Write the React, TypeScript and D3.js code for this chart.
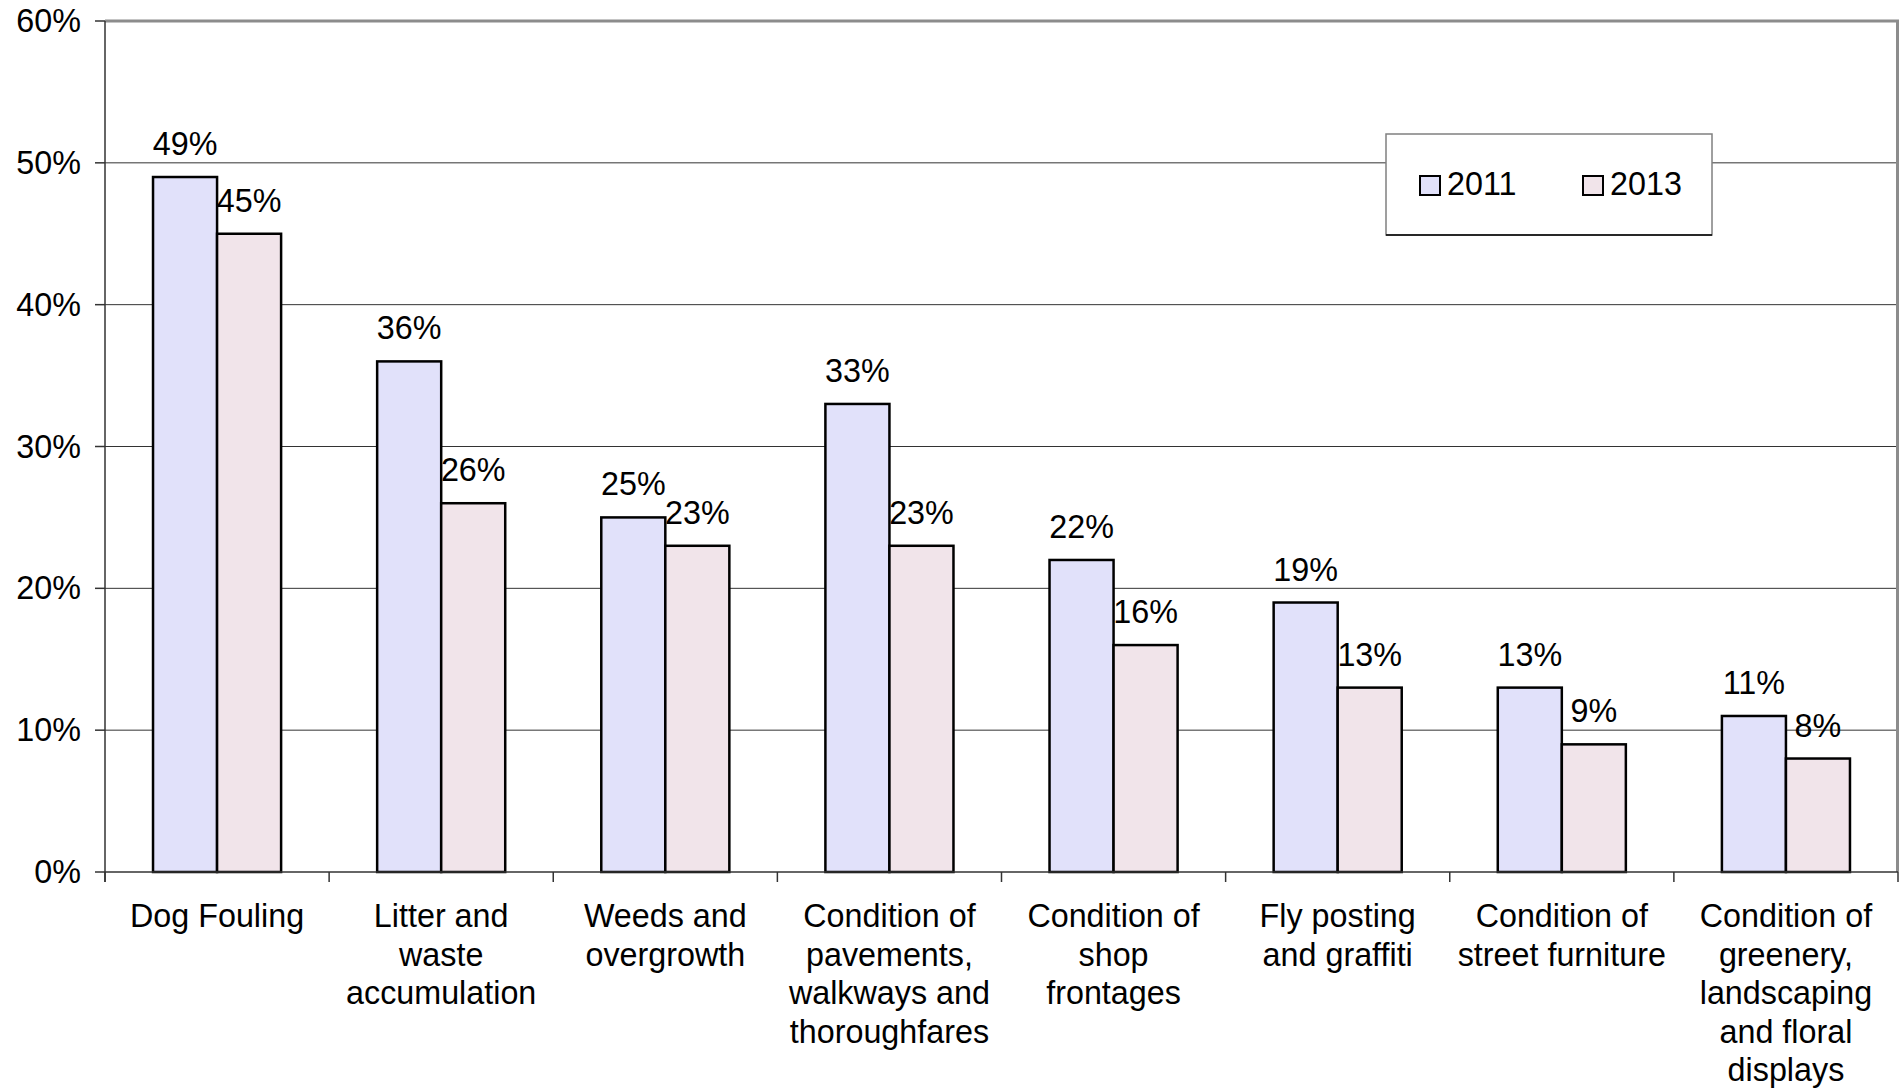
import React from "react";
import * as d3 from "d3";

const categories: string[][] = [
  ["Dog Fouling"],
  ["Litter and", "waste", "accumulation"],
  ["Weeds and", "overgrowth"],
  ["Condition of", "pavements,", "walkways and", "thoroughfares"],
  ["Condition of", "shop", "frontages"],
  ["Fly posting", "and graffiti"],
  ["Condition of", "street furniture"],
  ["Condition of", "greenery,", "landscaping", "and floral", "displays"],
];
const seriesNames = ["2011", "2013"];
const values2011 = [49, 36, 25, 33, 22, 19, 13, 11];
const values2013 = [45, 26, 23, 23, 16, 13, 9, 8];
const yTicks = [0, 10, 20, 30, 40, 50, 60];
const colors = ["#E1E1FA", "#F1E4EA"];

const W = 1899;
const H = 1090;
const left = 105;
const right = 1898;
const top = 21;
const bottom = 872;
const FONT = "'Liberation Sans', Arial, sans-serif";
const FS = 32.3;

export default function App() {
  const keys = categories.map((_, i) => String(i));
  const x0 = d3.scaleBand<string>().domain(keys).range([left, right]).paddingInner(0).paddingOuter(0);
  const x1 = d3.scaleBand<string>().domain(seriesNames).range([0, x0.bandwidth()]).paddingInner(0).paddingOuter(0.75);
  const y = d3.scaleLinear().domain([0, 60]).range([bottom, top]);
  const series = [values2011, values2013];

  return (
    <svg width={W} height={H} style={{ position: "absolute", left: 0, top: 0, background: "#fff" }} fontFamily={FONT}>
      <rect x={0} y={0} width={W} height={H} fill="#fff" />
      {/* gridlines */}
      {yTicks.filter((t) => t > 0 && t < 60).map((t) => (
        <line key={t} x1={left} x2={right} y1={y(t)} y2={y(t)} stroke="#333" strokeWidth={1} />
      ))}
      {/* top & right border */}
      <line x1={left} x2={right + 1} y1={y(60)} y2={y(60)} stroke="#8c8c8c" strokeWidth={3} />
      <line x1={right - 0.5} x2={right - 0.5} y1={y(60)} y2={bottom} stroke="#8c8c8c" strokeWidth={3} />
      {/* bars */}
      {series.map((vals, si) =>
        vals.map((v, i) => (
          <rect
            key={`${si}-${i}`}
            x={(x0(String(i)) as number) + (x1(seriesNames[si]) as number)}
            y={y(v)}
            width={x1.bandwidth()}
            height={bottom - y(v)}
            fill={colors[si]}
            stroke="#000"
            strokeWidth={2.5}
          />
        ))
      )}
      {/* data labels */}
      {series.map((vals, si) =>
        vals.map((v, i) => (
          <text
            key={`l${si}-${i}`}
            x={(x0(String(i)) as number) + (x1(seriesNames[si]) as number) + x1.bandwidth() / 2}
            y={y(v) - 22}
            textAnchor="middle"
            fontSize={FS}
            fill="#000"
          >
            {v}%
          </text>
        ))
      )}
      {/* y axis */}
      <line x1={left} x2={left} y1={y(60)} y2={bottom + 10} stroke="#333" strokeWidth={1.5} />
      {yTicks.map((t) => (
        <g key={`yt${t}`}>
          <line x1={95} x2={left} y1={y(t)} y2={y(t)} stroke="#333" strokeWidth={1.5} />
          <text x={81} y={y(t) + 11} textAnchor="end" fontSize={FS} fill="#000">
            {t}%
          </text>
        </g>
      ))}
      {/* x axis */}
      <line x1={left} x2={right} y1={bottom} y2={bottom} stroke="#333" strokeWidth={1.5} />
      {keys.map((k) => (
        <line key={`xt${k}`} x1={x0(k) as number} x2={x0(k) as number} y1={bottom} y2={bottom + 10} stroke="#333" strokeWidth={1.5} />
      ))}
      <line x1={right} x2={right} y1={bottom} y2={bottom + 10} stroke="#333" strokeWidth={1.5} />
      {categories.map((lines, i) => (
        <text key={`c${i}`} textAnchor="middle" fontSize={FS} fill="#000">
          {lines.map((ln, j) => (
            <tspan key={j} x={(x0(String(i)) as number) + x0.bandwidth() / 2} y={927 + j * 38.6}>
              {ln}
            </tspan>
          ))}
        </text>
      ))}
      {/* legend */}
      <rect x={1386} y={134} width={326} height={101} fill="#fff" stroke="#808080" strokeWidth={1.5} />
      <line x1={1386} x2={1712} y1={235} y2={235} stroke="#000" strokeWidth={1.5} />
      {seriesNames.map((s, i) => (
        <g key={`lg${s}`}>
          <rect x={1420 + i * 163} y={176} width={20} height={19} fill={colors[i]} stroke="#000" strokeWidth={2} />
          <text x={1447 + i * 163} y={195} fontSize={FS} fill="#000">
            {s}
          </text>
        </g>
      ))}
    </svg>
  );
}
